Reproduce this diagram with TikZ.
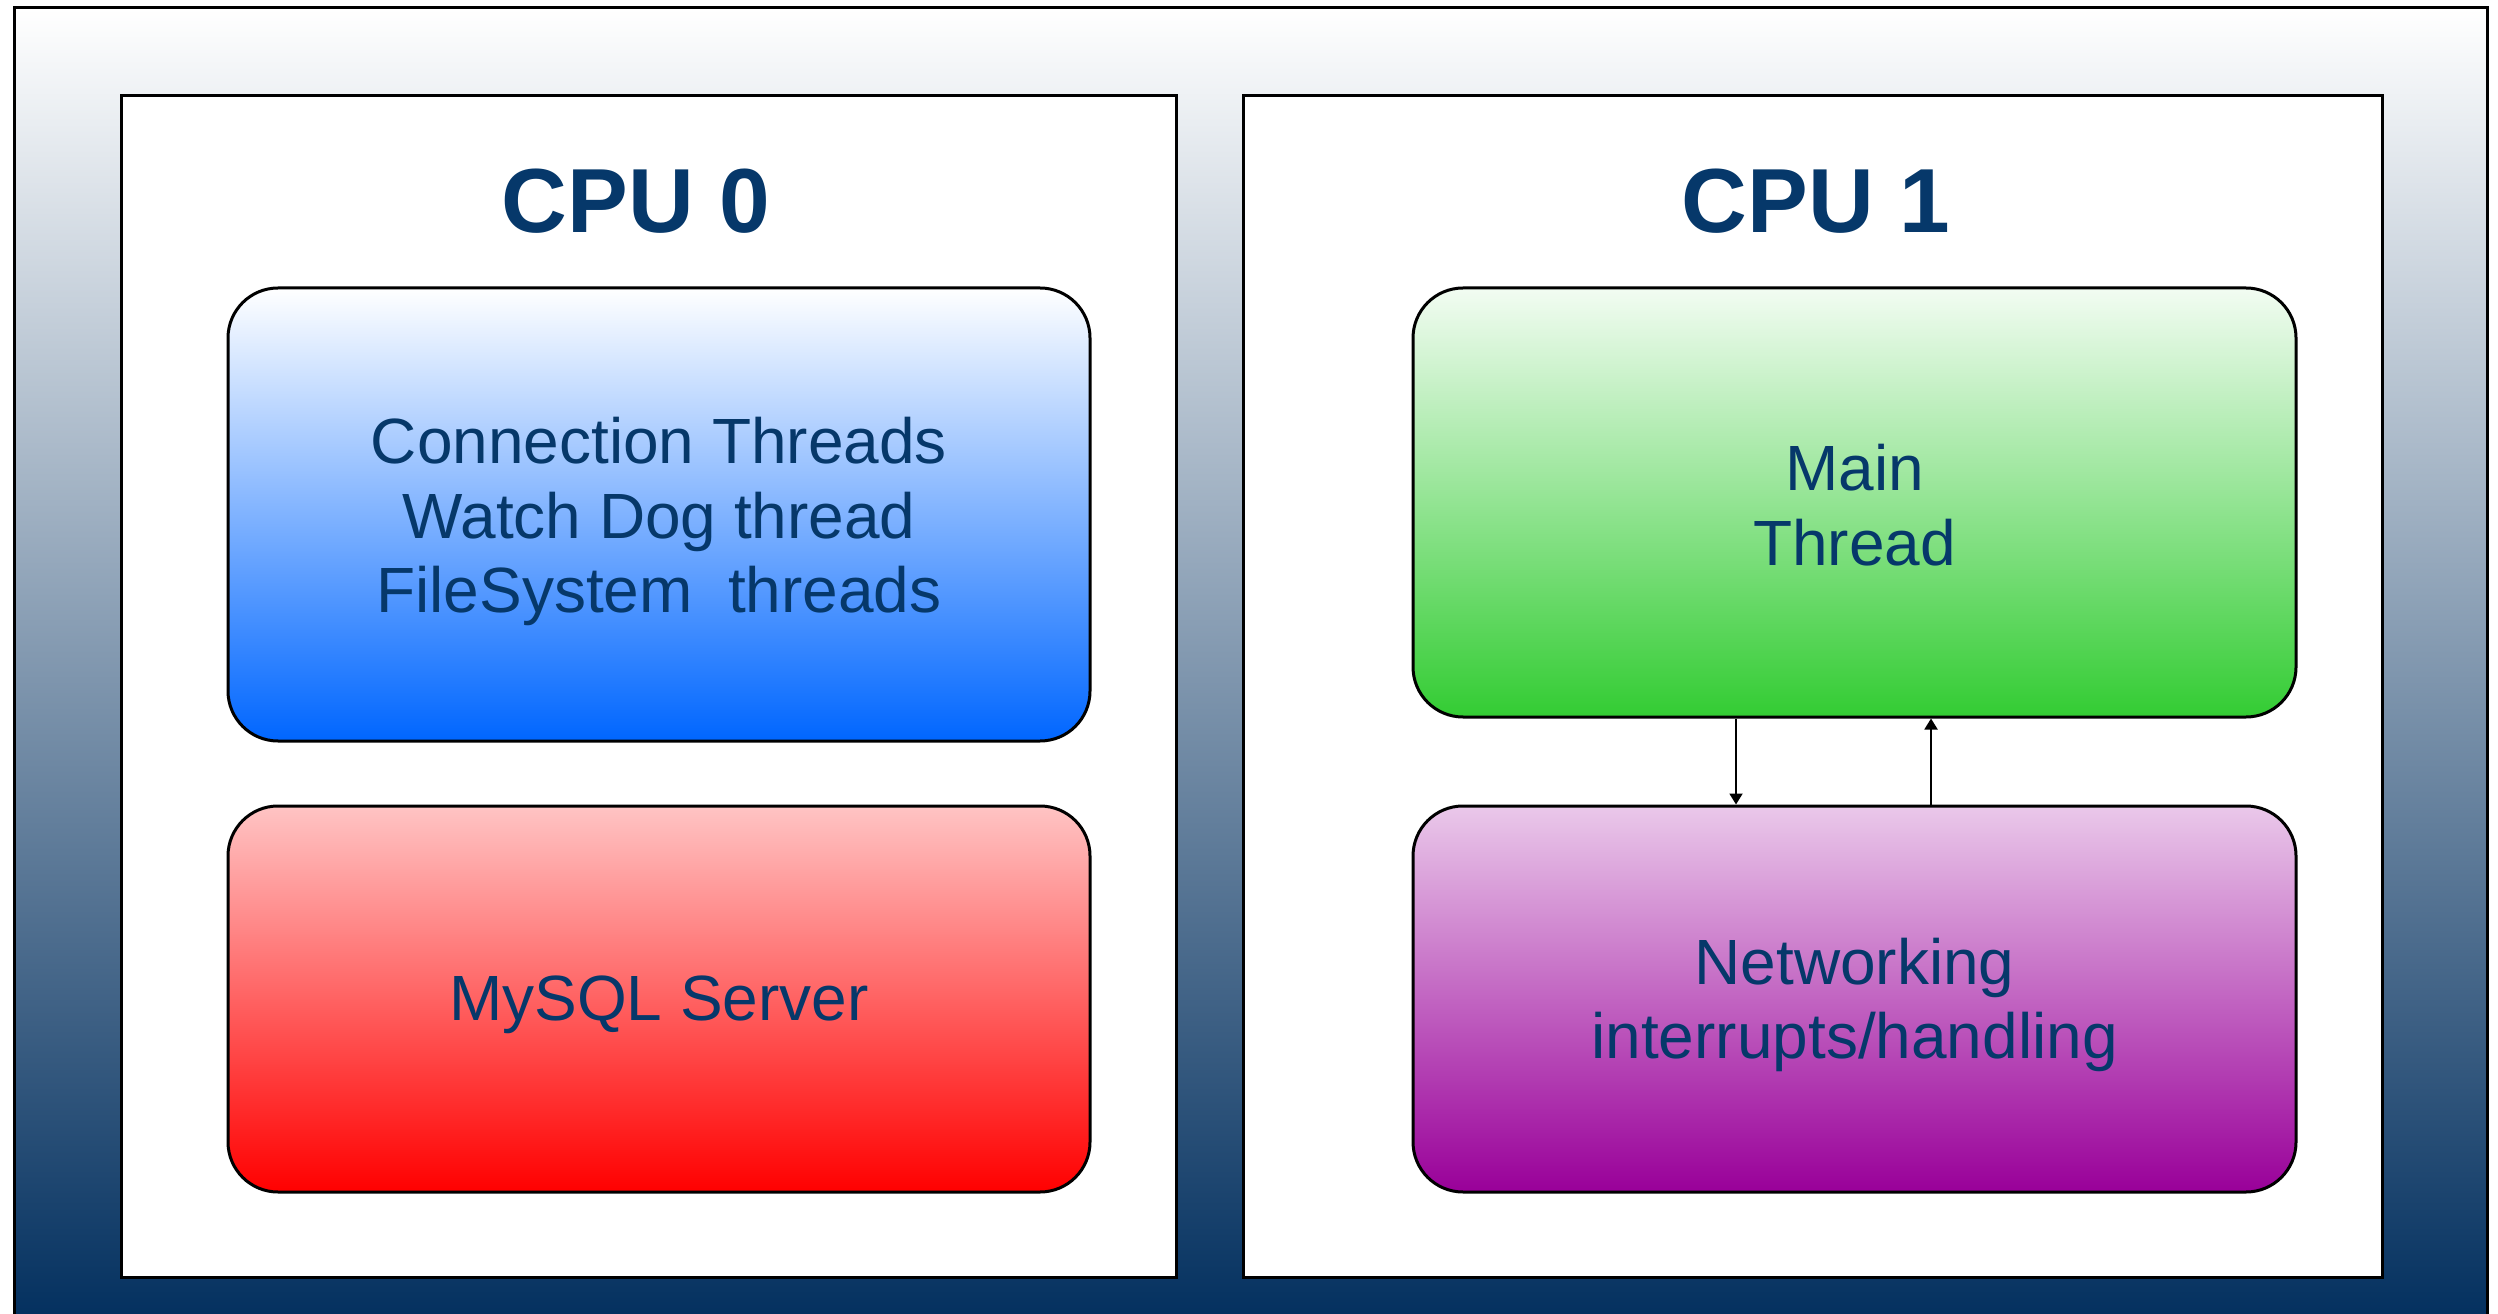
\documentclass[tikz,border=0pt]{standalone}
\usepackage{fontspec}
\setmainfont{Liberation Sans}
\usetikzlibrary{arrows.meta}
\definecolor{navy}{HTML}{03305F}
\definecolor{textnavy}{HTML}{06386A}
\definecolor{blueend}{HTML}{0066FF}
\definecolor{redtop}{HTML}{FFC4C4}
\definecolor{greentop}{HTML}{F2FCF2}
\definecolor{greenend}{HTML}{33CC33}
\definecolor{purpletop}{HTML}{EAC8EA}
\definecolor{purpleend}{HTML}{990099}
\tikzset{
  cpubox/.style={draw=black, line width=0.03cm, fill=white, inner sep=0pt},
  task/.style={draw=black, line width=0.03cm, rounded corners=0.5cm, inner sep=0pt},
  tasktext/.style={align=center, text=textnavy, inner sep=0pt,
    font=\fontsize{18.2pt}{21.3pt}\selectfont},
  title/.style={text=textnavy, font=\fontsize{25.9pt}{30pt}\selectfont\bfseries, inner sep=0pt},
  link/.style={draw=black, line width=0.02cm, -{Triangle[width=0.13cm,length=0.11cm]}}
}
\begin{document}
\begin{tikzpicture}
\useasboundingbox (0,0) rectangle (24.98,13.13);
% background frame with vertical gradient
\node[draw=black, line width=0.03cm, inner sep=0pt, minimum width=24.73cm, minimum height=13.12cm,
      top color=white, bottom color=navy] (frame) at (12.505,6.49) {};
% CPU panels
\node[cpubox, minimum width=10.55cm, minimum height=11.81cm] (cpu0) at (6.485,6.265) {};
\node[cpubox, minimum width=11.39cm, minimum height=11.81cm] (cpu1) at (18.125,6.265) {};
\node[title] (cpu0title) at (6.36,11.12) {CPU 0};
\node[title] (cpu1title) at (18.16,11.12) {CPU 1};
% CPU 0 tasks
\node[task, minimum width=8.62cm, minimum height=4.53cm, top color=white, bottom color=blueend]
  (conn) at (6.59,7.985) {};
\node[task, minimum width=8.62cm, minimum height=3.86cm, top color=redtop, bottom color=red]
  (mysql) at (6.59,3.14) {};
% CPU 1 tasks
\node[task, minimum width=8.83cm, minimum height=4.29cm, top color=greentop, bottom color=greenend]
  (main) at (18.545,8.105) {};
\node[task, minimum width=8.83cm, minimum height=3.86cm, top color=purpletop, bottom color=purpleend]
  (net) at (18.545,3.14) {};
% task labels
\node[tasktext] (conntext) at ([yshift=-0.07cm]conn.center) {Connection Threads\\Watch Dog thread\\FileSystem\ \ threads};
\node[tasktext] (mysqltext) at ([yshift=-0.06cm]mysql.center) {MySQL Server};
\node[tasktext] (maintext) at ([yshift=-0.03cm]main.center) {Main\\Thread};
\node[tasktext] (nettext) at ([yshift=-0.06cm]net.center) {Networking\\interrupts/handling};
% links between main thread and networking
\coordinate (downx) at (17.36,0);
\coordinate (upx) at (19.31,0);
\draw[link] (downx |- main.south) -- (downx |- net.north);
\draw[link] (upx |- net.north) -- (upx |- main.south);
\end{tikzpicture}
\end{document}
